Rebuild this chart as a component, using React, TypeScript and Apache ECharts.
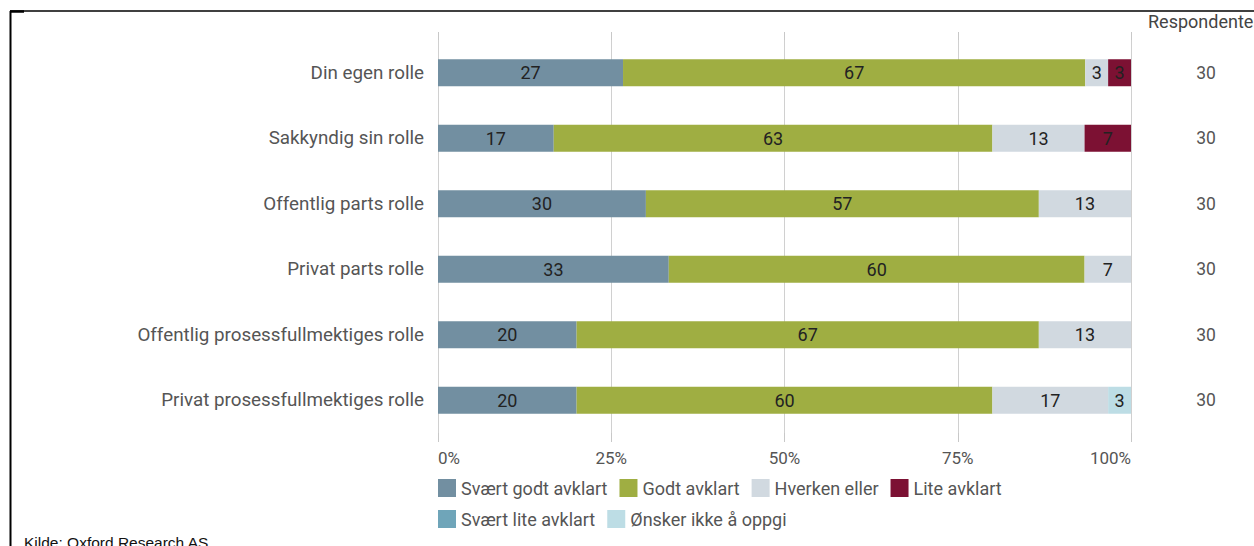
import React, { useEffect, useRef } from "react";
import * as echarts from "echarts";

const categories = [
  "Din egen rolle",
  "Sakkyndig sin rolle",
  "Offentlig parts rolle",
  "Privat parts rolle",
  "Offentlig prosessfullmektiges rolle",
  "Privat prosessfullmektiges rolle",
];
const seriesNames = [
  "Svært godt avklart",
  "Godt avklart",
  "Hverken eller",
  "Lite avklart",
  "Svært lite avklart",
  "Ønsker ikke å oppgi",
];
const sværtGodt = [26.7, 16.7, 30, 33.3, 20, 20];
const godt = [66.7, 63.3, 56.7, 60, 66.7, 60];
const hverken = [3.3, 13.3, 13.3, 6.7, 13.3, 16.7];
const lite = [3.3, 6.7, 0, 0, 0, 0];
const sværtLite = [0, 0, 0, 0, 0, 0];
const ønskerIkke = [0, 0, 0, 0, 0, 3.3];
const respondents = [30, 30, 30, 30, 30, 30];
const xTicks = [0, 25, 50, 75, 100];
const colors = ["#728fa1", "#9fae42", "#d1d9e0", "#7c1133", "#6fa5b9", "#bddde5"];

const FONT = "Roboto";

export default function App() {
  const ref = useRef<HTMLDivElement>(null);
  useEffect(() => {
    const chart = echarts.init(ref.current!, null, { renderer: "svg" });
    const values = [sværtGodt, godt, hverken, lite, sværtLite, ønskerIkke];
    const series = seriesNames.map((name, i) => ({
      name,
      type: "bar",
      stack: "total",
      barWidth: 27,
      itemStyle: { color: colors[i] },
      label: {
        show: true,
        position: "inside",
        color: "#222",
        fontFamily: FONT,
        fontSize: 18,
        formatter: (p: any) => (p.value > 0 ? String(Math.round(p.value)) : ""),
      },
      data: values[i],
    }));
    const legendText = { color: "#555", fontSize: 18, fontFamily: FONT };
    chart.setOption({
      animation: false,
      textStyle: { fontFamily: FONT },
      grid: { left: 438, right: 123, top: 40, bottom: 113, containLabel: false },
      xAxis: [
        {
          type: "value",
          min: 0,
          max: 100,
          interval: 25,
          position: "bottom",
          axisLine: { show: false },
          axisTick: { show: true, length: 9, lineStyle: { color: "#c8c8c8" } },
          splitLine: { show: true, lineStyle: { color: "#d0d0d0", width: 1 } },
          axisLabel: {
            color: "#555",
            fontSize: 17,
            margin: 16,
            alignMinLabel: "left",
            alignMaxLabel: "right",
            formatter: (v: number) => (xTicks.includes(v) ? v + "%" : ""),
          },
        },
        {
          type: "value",
          min: 0,
          max: 100,
          interval: 25,
          position: "top",
          axisLine: { show: false },
          axisTick: { show: true, length: 8, lineStyle: { color: "#c8c8c8" } },
          splitLine: { show: false },
          axisLabel: { show: false },
        },
      ],
      yAxis: [
        {
          type: "category",
          data: categories,
          inverse: true,
          axisLine: { show: false },
          axisTick: { show: false },
          axisLabel: { color: "#555", fontSize: 18.8, margin: 14 },
        },
        {
          type: "category",
          data: respondents.map(String),
          inverse: true,
          position: "right",
          axisLine: { show: false },
          axisTick: { show: false },
          axisLabel: { color: "#555", fontSize: 17.5, margin: 75, align: "center" },
        },
      ],
      legend: [
        {
          data: seriesNames.slice(0, 4),
          left: 438,
          top: 479,
          itemWidth: 18,
          itemHeight: 18,
          itemGap: 12,
          icon: "rect",
          textStyle: legendText,
          padding: 0,
        },
        {
          data: seriesNames.slice(4),
          left: 438,
          top: 510,
          itemWidth: 18,
          itemHeight: 18,
          itemGap: 12,
          icon: "rect",
          textStyle: legendText,
          padding: 0,
        },
      ],
      graphic: [
        {
          type: "text",
          left: 1148,
          top: 12,
          style: { text: "Respondenter", fill: "#444", font: "18px " + FONT },
        },
        {
          type: "text",
          left: 24,
          top: 534,
          style: { text: "Kilde: Oxford Research AS", fill: "#111", font: "15.5px 'Liberation Sans'" },
        },
        {
          type: "line",
          shape: { x1: 10, y1: 11, x2: 1254, y2: 11 },
          style: { stroke: "#000", lineWidth: 1.5 },
        },
        {
          type: "line",
          shape: { x1: 10.5, y1: 11, x2: 10.5, y2: 546 },
          style: { stroke: "#000", lineWidth: 2 },
        },
        {
          type: "line",
          shape: { x1: 10, y1: 11.5, x2: 24, y2: 11.5 },
          style: { stroke: "#000", lineWidth: 2.5 },
        },
      ],
      series,
    });
    return () => chart.dispose();
  }, []);
  return (
    <div
      ref={ref}
      style={{ position: "absolute", left: 0, top: 0, width: 1254, height: 546 }}
    />
  );
}
